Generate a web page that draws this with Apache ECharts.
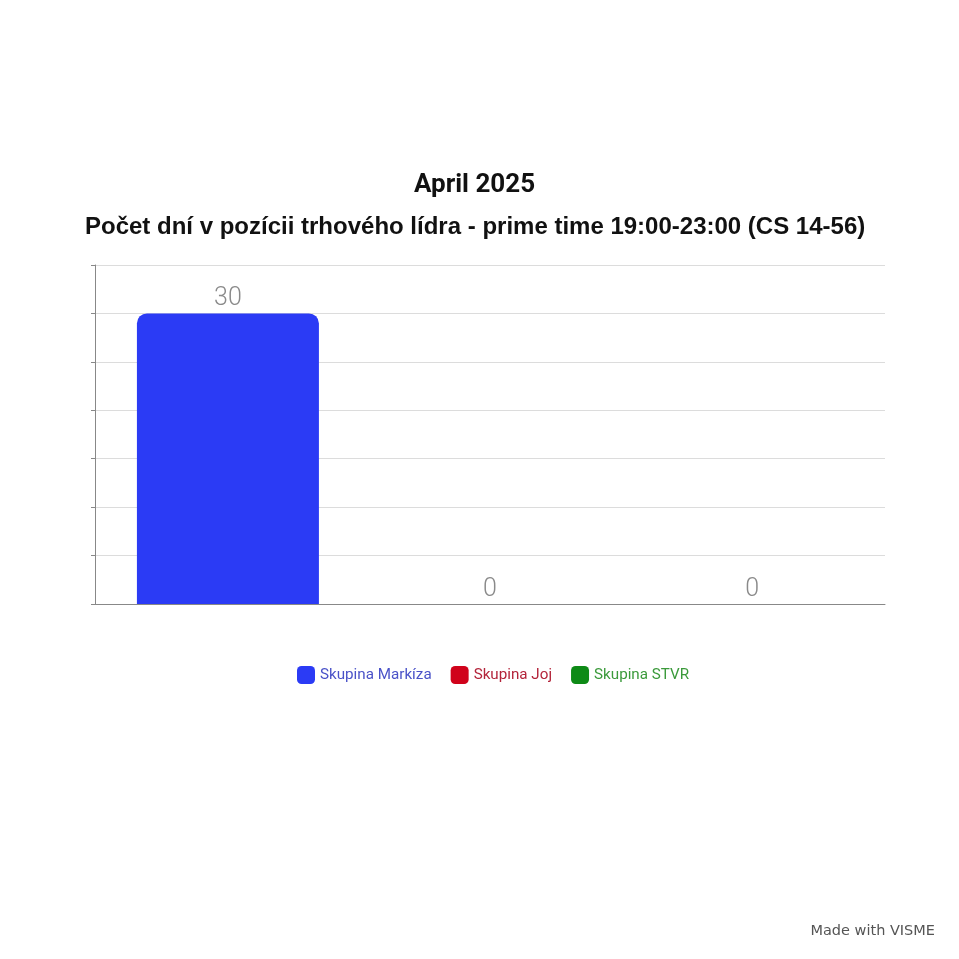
<!DOCTYPE html>
<html>
<head>
<meta charset="UTF-8">
<title>April 2025</title>
<script src="https://cdn.jsdelivr.net/npm/echarts@6/dist/echarts.min.js"></script>
<style>
  html, body { margin: 0; padding: 0; background: #fff; }
  #main { width: 959px; height: 959px; }
</style>
</head>
<body>
<div id="main"></div>
<script>
var categories = ['April 2025'];
var seriesNames = ['Skupina Markíza', 'Skupina Joj', 'Skupina STVR'];
var seriesColors = ['#2b3bf5', '#d0021b', '#0e8a16'];
var legendColors = ['#4a52c8', '#b3243a', '#3b9a3b'];
var seriesValues = [[30], [0], [0]];

var myChart = echarts.init(document.getElementById('main'));

var series = seriesNames.map(function (name, i) {
  return {
    name: name,
    type: 'bar',
    data: seriesValues[i],
    barWidth: 182,
    barGap: '44%',
    itemStyle: { color: seriesColors[i], borderRadius: [10, 10, 0, 0] },
    label: {
      show: true,
      position: 'top',
      distance: 2,
      color: '#8a8a8a',
      fontSize: 25,
      fontFamily: 'Roboto',
      fontWeight: 300
    }
  };
});

var option = {
  animation: false,
  title: [
    {
      text: 'April 2025',
      left: 409,
      top: 167,
      textStyle: { fontFamily: 'Roboto', fontSize: 26, fontWeight: 'bold', color: '#111' }
    },
    {
      text: 'Počet dní v pozícii trhového lídra - prime time 19:00-23:00 (CS 14-56)',
      left: 80,
      top: 210,
      textStyle: { fontFamily: '"Liberation Sans", Arial, sans-serif', fontSize: 24, fontWeight: 'bold', color: '#111' }
    }
  ],
  legend: {
    data: seriesNames.map(function (name, i) {
      return { name: name, textStyle: { color: legendColors[i] } };
    }),
    top: 661,
    left: 292,
    icon: 'roundRect',
    itemWidth: 18,
    itemHeight: 18,
    itemGap: 19,
    textStyle: { fontFamily: 'Roboto', fontSize: 15.2 }
  },
  grid: { left: 95, right: 74, top: 265, bottom: 355, containLabel: false },
  xAxis: {
    type: 'category',
    data: categories,
    axisLine: { lineStyle: { color: '#888' } },
    axisTick: { alignWithLabel: true, length: 5, lineStyle: { color: '#888' } },
    axisLabel: { show: false }
  },
  yAxis: {
    type: 'value',
    min: 0,
    max: 35,
    interval: 5,
    axisLine: { show: true, lineStyle: { color: '#888' } },
    axisTick: { show: true, length: 4, lineStyle: { color: '#888' } },
    axisLabel: { show: false },
    splitLine: { lineStyle: { color: '#dcdcdc' } }
  },
  graphic: [
    {
      type: 'text',
      right: 24,
      top: 924,
      style: { text: 'Made with VISME', fill: '#555', font: '14.5px "DejaVu Sans"' }
    }
  ],
  series: series
};

myChart.setOption(option);
</script>
</body>
</html>
